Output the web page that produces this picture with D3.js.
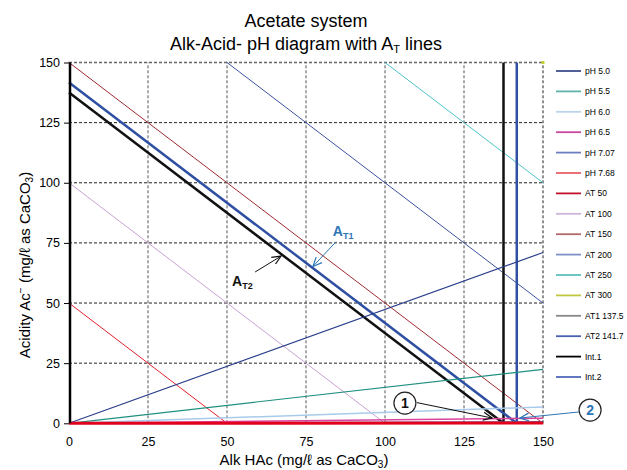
<!DOCTYPE html>
<html>
<head>
<meta charset="utf-8">
<script src="https://cdn.jsdelivr.net/npm/d3@7"></script>
<style>
  body { margin: 0; background: #fff; }
  text { font-family: "Liberation Sans", Arial, sans-serif; }
</style>
</head>
<body>
<div class="center"></div>
<script>

// values
var alkTicks = [0, 25, 50, 75, 100, 125, 150];
var acidTicks = [0, 25, 50, 75, 100, 125, 150];

var phLabels = ["pH 5.0", "pH 5.5", "pH 6.0", "pH 6.5", "pH 7.07", "pH 7.68"];
var phAcidAt150 = [71, 22.4, 6.8, 2.1, 0.6, 0.15];   // acidity where the pH line meets Alk = 150

var atLabels = ["AT 50", "AT 100", "AT 150", "AT 200", "AT 250", "AT 300"];
var atValues = [50, 100, 150, 200, 250, 300];

var at1 = 137.5, at2 = 141.7;
var extraLabels = ["AT1 137.5", "AT2 141.7", "Int.1", "Int.2"];

// styles
var phColors = ["#2b3f8c", "#1f8f80", "#a9cbea", "#d9439c", "#4a63b0", "#e3001b"];
var phWidths = [1.2, 1.2, 1.5, 1.5, 1.5, 3];
var atColors = ["#e2202c", "#c7a2d4", "#9e2a2f", "#3d52a1", "#4cc4c8", "#c8d030"];
var legendColors = ["#3f4e8d", "#5fb3aa", "#bcd3ea", "#c8479f", "#6a80be", "#e8606a",
                    "#c0102a", "#cfb3d8", "#b36a6a", "#7f90c8", "#5cc0c0", "#c0c840",
                    "#888888", "#4a60b0", "#000000", "#5068b8"];
var black = "#111", blue = "#2f4fa3", noteBlue = "#2e75b6";

var width = 627, height = 470;

var svg = d3.select(".center").append("svg")
    .attr("width", width)
    .attr("height", height);

var x = d3.scaleLinear().domain([0, 150]).range([69, 543]);
var y = d3.scaleLinear().domain([0, 150]).range([423.3, 62.5]);

svg.append("defs").append("clipPath").attr("id", "plot")
  .append("rect")
    .attr("x", x(0) - 2).attr("y", y(150) - 2)
    .attr("width", x(150) - x(0) + 4).attr("height", y(0) - y(150) + 4);

// title
var title = svg.append("text")
    .attr("x", 306).attr("text-anchor", "middle")
    .attr("font-size", "18px");
title.append("tspan").attr("x", 306).attr("y", 27).text("Acetate system");
title.append("tspan").attr("x", 306).attr("y", 50).text("Alk-Acid- pH diagram with A");
title.append("tspan").attr("font-size", "11px").attr("dy", 3).text("T");
title.append("tspan").attr("dy", -3).text(" lines");

// grid
svg.append("g").selectAll("line")
    .data(acidTicks.slice(1))
    .enter().append("line")
    .attr("x1", x(0)).attr("x2", x(150))
    .attr("y1", function(d) { return y(d); })
    .attr("y2", function(d) { return y(d); })
    .attr("stroke", function(d) { return d == 150 ? "#666" : "#222"; })
    .attr("stroke-width", function(d) { return d == 150 ? 1.6 : 1; })
    .attr("stroke-dasharray", "3,2");

svg.append("g").selectAll("line")
    .data(alkTicks.slice(1))
    .enter().append("line")
    .attr("y1", y(0)).attr("y2", y(150))
    .attr("x1", function(d) { return x(d); })
    .attr("x2", function(d) { return x(d); })
    .attr("stroke", function(d) { return d == 150 ? "#222" : "#555"; })
    .attr("stroke-width", 1)
    .attr("stroke-dasharray", "3,2");

// axes
var yAxis = svg.append("g")
    .attr("transform", "translate(" + x(0) + ",0)")
    .call(d3.axisLeft(y).tickValues(acidTicks).tickSize(5).tickPadding(4));
yAxis.select(".domain").remove();
yAxis.selectAll("text").attr("font-size", "12.5px").attr("font-family", "Liberation Sans, Arial");

var xAxis = svg.append("g")
    .attr("transform", "translate(0," + y(0) + ")")
    .call(d3.axisBottom(x).tickValues(alkTicks).tickSize(0).tickPadding(14));
xAxis.select(".domain").remove();
xAxis.selectAll("text").attr("font-size", "12.5px").attr("font-family", "Liberation Sans, Arial");

var xl = svg.append("text")
    .attr("x", 304).attr("y", 465)
    .attr("text-anchor", "middle").attr("font-size", "15px");
xl.append("tspan").text("Alk HAc (mg/\u2113 as CaCO");
xl.append("tspan").attr("font-size", "10px").attr("dy", 3).text("3");
xl.append("tspan").attr("dy", -3).text(")");

var yl = svg.append("text")
    .attr("transform", "translate(30,265) rotate(-90)")
    .attr("text-anchor", "middle").attr("font-size", "15px");
yl.append("tspan").text("Acidity Ac");
yl.append("tspan").attr("font-size", "10px").attr("dy", -6).text("\u2212");
yl.append("tspan").attr("dy", 6).text("  (mg/\u2113 as CaCO");
yl.append("tspan").attr("font-size", "10px").attr("dy", 3).text("3");
yl.append("tspan").attr("dy", -3).text(")");

// lines
var plot = svg.append("g").attr("clip-path", "url(#plot)");

// total alkalinity lines: Alk + Acid = AT
plot.selectAll(".at")
    .data(atValues)
    .enter().append("line")
    .attr("class", "at")
    .attr("x1", function(d) { return x(Math.max(0, d - 150)); })
    .attr("y1", function(d) { return y(d - Math.max(0, d - 150)); })
    .attr("x2", function(d) { return x(Math.min(150, d)); })
    .attr("y2", function(d) { return y(d - Math.min(150, d)); })
    .attr("stroke", function(d, i) { return atColors[i]; })
    .attr("stroke-linecap", "square")
    .attr("stroke-width", function(d) { return d == 300 ? 3 : 1; });

// AT1 / AT2 lines and their verticals
[[at1, black], [at2, blue]].forEach(function(a) {
  plot.append("line")
      .attr("x1", x(0)).attr("y1", y(a[0]))
      .attr("x2", x(a[0])).attr("y2", y(0))
      .attr("stroke", a[1]).attr("stroke-width", 2.5);
  plot.append("line")
      .attr("x1", x(a[0])).attr("y1", y(0))
      .attr("x2", x(a[0])).attr("y2", y(150))
      .attr("stroke", a[1]).attr("stroke-width", 2.5);
});

// pH lines from the origin
plot.selectAll(".ph")
    .data(phAcidAt150)
    .enter().append("line")
    .attr("class", "ph")
    .attr("x1", x(0)).attr("y1", y(0))
    .attr("x2", x(150))
    .attr("y2", function(d) { return y(d); })
    .attr("stroke", function(d, i) { return phColors[i]; })
    .attr("stroke-width", function(d, i) { return phWidths[i]; });

// left axis line
svg.append("line")
    .attr("x1", x(0) + 1).attr("x2", x(0) + 1)
    .attr("y1", y(0)).attr("y2", y(150))
    .attr("stroke", "#000").attr("stroke-width", 2.5);

// annotations
var defs = svg.select("defs");
[["arrK", black], ["arrB", noteBlue]].forEach(function(m) {
  defs.append("marker")
      .attr("id", m[0]).attr("viewBox", "0 0 10 10")
      .attr("refX", 9).attr("refY", 5)
      .attr("markerWidth", 10).attr("markerHeight", 10)
      .attr("markerUnits", "userSpaceOnUse")
      .attr("orient", "auto")
    .append("path")
      .attr("d", "M0,1 L9,5 L0,9")
      .attr("fill", "none").attr("stroke", m[1]).attr("stroke-width", 1.2);
});

function arrow(x1, y1, x2, y2, c, m) {
  svg.append("line")
      .attr("x1", x(x1)).attr("y1", y(y1))
      .attr("x2", x(x2)).attr("y2", y(y2))
      .attr("stroke", c).attr("stroke-width", 1)
      .attr("marker-end", "url(#" + m + ")");
}

arrow(84.5, 75.5, 77.2, 65.2, noteBlue, "arrB");
arrow(58.9, 62.9, 67.1, 69.5, black, "arrK");
arrow(110.1, 8.6, 133.9, 2.2, black, "arrK");
arrow(161.3, 4.7, 142.7, 2.2, noteBlue, "arrB");

function atLabel(ax, ay, sub, c) {
  var t = svg.append("text")
      .attr("x", x(ax)).attr("y", y(ay))
      .attr("font-size", "14px").attr("font-weight", "bold").attr("fill", c);
  t.append("tspan").text("A");
  t.append("tspan").attr("font-size", "9px").attr("dy", 3).text(sub);
}
atLabel(83.5, 77.8, "T1", noteBlue);
atLabel(51.6, 57.0, "T2", black);

function callout(cx, cy, txt, c) {
  svg.append("circle")
      .attr("cx", x(cx)).attr("cy", y(cy)).attr("r", 11)
      .attr("fill", "#fff").attr("stroke", "#222").attr("stroke-width", 1.2);
  svg.append("text")
      .attr("x", x(cx)).attr("y", y(cy) + 5)
      .attr("text-anchor", "middle")
      .attr("font-size", "14px").attr("font-weight", "bold").attr("fill", c)
      .text(txt);
}
callout(106.3, 8.4, "1", black);
callout(164.9, 5.5, "2", noteBlue);

// legend
var legend = svg.append("g").selectAll("g")
    .data(phLabels.concat(atLabels, extraLabels))
    .enter().append("g")
    .attr("transform", function(d, n) { return "translate(556," + (71 + n * 20.4) + ")"; });

legend.append("line")
    .attr("x1", 0).attr("x2", 25)
    .attr("stroke", function(d, i) { return legendColors[i]; })
    .attr("stroke-width", 1.8);

legend.append("text")
    .attr("x", 29).attr("y", 3)
    .attr("font-size", "8.5px")
    .text(function(d) { return d; });

</script>
</body>
</html>
